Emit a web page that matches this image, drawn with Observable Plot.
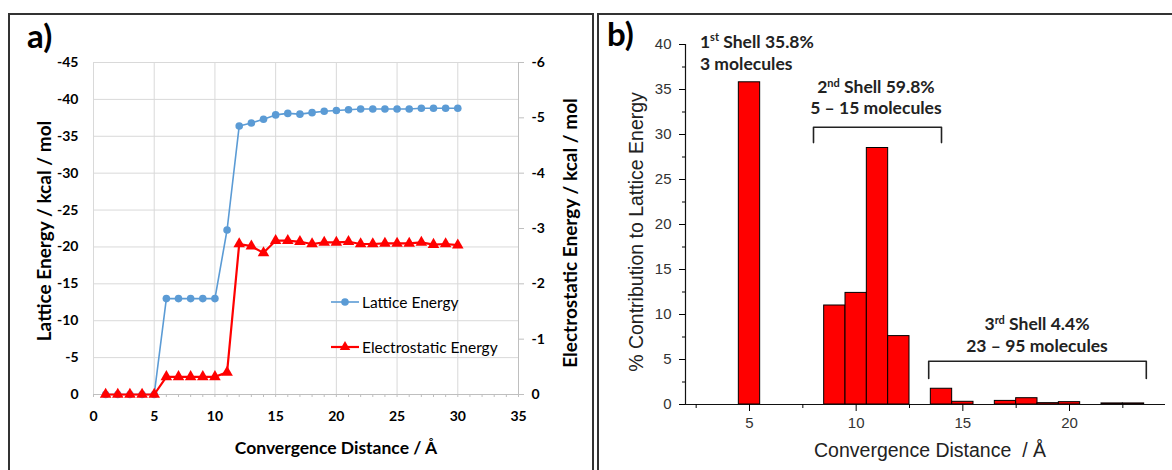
<!DOCTYPE html>
<html><head><meta charset="utf-8">
<script src="https://cdn.jsdelivr.net/npm/d3@7"></script>
<script src="https://cdn.jsdelivr.net/npm/@observablehq/plot@0.6"></script>
<style>
html,body{margin:0;padding:0;background:#fff;}
#wrap{position:relative;width:1172px;height:470px;overflow:hidden;background:#fff;}
.box{position:absolute;border:2px solid #333;box-sizing:border-box;}
#wrap svg{position:absolute;top:0;overflow:visible;}
</style></head><body><div id="wrap"></div>
<script>
// ---------- Panel a data ----------
const distance = [1,2,3,4,5,6,7,8,9,10,11,12,13,14,15,16,17,18,19,20,21,22,23,24,25,26,27,28,29,30];
const latticeEnergy = [0,0,0,0,0,-13,-13,-13,-13,-13,-22.3,-36.4,-36.8,-37.3,-37.9,-38.1,-38.0,-38.2,-38.4,-38.5,-38.6,-38.7,-38.7,-38.7,-38.7,-38.7,-38.8,-38.8,-38.8,-38.8];
const electrostaticEnergy = [0,0,0,0,0,-0.32,-0.32,-0.32,-0.32,-0.32,-0.40,-2.72,-2.68,-2.56,-2.78,-2.78,-2.76,-2.72,-2.75,-2.75,-2.76,-2.72,-2.72,-2.73,-2.73,-2.73,-2.75,-2.71,-2.72,-2.70];
const xTicksA = [0,5,10,15,20,25,30,35];
const xMinorA = [0,1,2,3,4,5,6,7,8,9,10,11,12,13,14,15,16,17,18,19,20,21,22,23,24,25,26,27,28,29,30,31,32,33,34,35];
const yTicksLeft = [0,-5,-10,-15,-20,-25,-30,-35,-40,-45];
const yTicksRight = [0,-1,-2,-3,-4,-5,-6];
const seriesNames = ["Lattice Energy","Electrostatic Energy"];

// ---------- Panel b data ----------
const barDistance = [5,9,10,11,12,14,15,17,18,19,20,22,23];
const contribution = [35.8,11.0,12.4,28.5,7.6,1.75,0.3,0.4,0.7,0.15,0.26,0.12,0.12];
const xTicksB = [5,10,15,20];
const xMinorB = [2.5,7.5,12.5,17.5,22.5];
const yTicksB = [0,5,10,15,20,25,30,35,40];
const yMinorB = [2.5,7.5,12.5,17.5,22.5,27.5,32.5,37.5];
const shellOrdinal = ["1","2","3"];
const shellSuffix = ["st","nd","rd"];
const shellPercent = ["35.8%","59.8%","4.4%"];
const shellMolecules = ["3 molecules","5 \u2013 15 molecules","23 \u2013 95 molecules"];
const shellFrom = [null, 8, 13.4];
const shellTo = [null, 14, 23.6];

const wrap = document.getElementById("wrap");
function box(l,t,w,h){const d=document.createElement("div");d.className="box";Object.assign(d.style,{left:l+"px",top:t+"px",width:w+"px",height:h+"px"});wrap.appendChild(d);}
box(8,13,586,470);
box(597,13,590,470);

// scale factor between left (lattice) and right (electrostatic) axes
const ratio = 45/6;
const blue = "#5B9BD5", red = "#FF0000";
const latticeRows = distance.map((d,i)=>({d, v: latticeEnergy[i]}));
const elecRows = distance.map((d,i)=>({d, v: electrostaticEnergy[i]*ratio}));

const fontA = "Lato, 'Open Sans', sans-serif";
const plotA = Plot.plot({
  width: 600, height: 470,
  marginLeft: 93, marginRight: 82, marginTop: 62, marginBottom: 76,
  x: {domain:[0,35], label:null},
  y: {domain:[0,-45], label:null},
  style: {fontFamily: fontA, fontWeight:"bold", fontSize:"14px", color:"#000", background:"transparent"},
  marks: [
    Plot.ruleX(xTicksA, {stroke:"#d9d9d9"}),
    Plot.ruleY(yTicksLeft, {stroke:"#d9d9d9"}),
    Plot.ruleY([0], {stroke:"#bfbfbf"}),
    Plot.ruleX([35], {stroke:"#bfbfbf"}),
    Plot.axisX({ticks: xMinorA, tickSize:3, tickFormat:()=>"", stroke:"#bfbfbf"}),
    Plot.axisX({ticks: xTicksA, tickSize:0, tickPadding:17, tickFormat:d=>String(d)}),
    Plot.axisY({ticks: yTicksLeft, tickSize:0, tickPadding:15, tickFormat:d=>String(d)}),
    Plot.axisY({ticks: yTicksRight.map(v=>v*ratio), anchor:"right", tickSize:5, tickPadding:8, stroke:"#bfbfbf", tickFormat:d=>String(Math.round(d/ratio))}),
    Plot.line(latticeRows, {x:"d", y:"v", stroke:blue, strokeWidth:1.6}),
    Plot.dot(latticeRows, {x:"d", y:"v", fill:blue, r:3.8}),
    Plot.line(elecRows, {x:"d", y:"v", stroke:red, strokeWidth:2.2}),
    Plot.dot(elecRows, {x:"d", y:"v", fill:red, symbol:"triangle", r:4.3})
  ]
});
plotA.style.left = "0px";
wrap.appendChild(plotA);

function txt(svg, o){
  const t = d3.select(svg).append("text")
    .attr("x", o.x).attr("y", o.y)
    .attr("text-anchor", o.anchor || "start")
    .style("font-family", o.family).style("font-size", o.size+"px")
    .style("font-weight", o.weight || "normal").style("fill", o.fill || "#000")
    .style("white-space","pre");
  if (o.rotate) t.attr("transform", `rotate(${o.rotate},${o.x},${o.y})`);
  if (o.baseline) t.attr("dominant-baseline", o.baseline);
  return t;
}
// Panel a labels
txt(plotA,{x:27,y:48,size:33,weight:"bold",family:fontA}).text("a)");
txt(plotA,{x:43,y:231,size:19,weight:"bold",family:fontA,anchor:"middle",rotate:-90,baseline:"central"}).text("Lattice Energy / kcal / mol");
txt(plotA,{x:569,y:233,size:19,weight:"bold",family:fontA,anchor:"middle",rotate:-90,baseline:"central"}).text("Electrostatic Energy / kcal / mol");
txt(plotA,{x:336,y:454,size:17.5,weight:"bold",family:fontA,anchor:"middle"}).text("Convergence Distance / \u00C5");
// legend
const legendColors = [blue, red];
const legendY = [302, 347];
seriesNames.forEach((name,i)=>{
  const g = d3.select(plotA).append("g");
  g.append("line").attr("x1",331).attr("x2",359).attr("y1",legendY[i]).attr("y2",legendY[i]).attr("stroke",legendColors[i]).attr("stroke-width", i?2.2:1.6);
  if (i===0) g.append("circle").attr("cx",345).attr("cy",legendY[i]).attr("r",3.8).attr("fill",blue);
  else g.append("path").attr("d",d3.symbol(d3.symbolTriangle, 48)()).attr("transform",`translate(345,${legendY[i]})`).attr("fill",red);
  txt(plotA,{x:362,y:legendY[i],size:15.5,weight:"normal",family:fontA,baseline:"central"}).text(name);
});

// ---------- Panel b ----------
const fontB = "'Liberation Sans', Arial, sans-serif";
const barRows = barDistance.map((d,i)=>({d, v: contribution[i]}));
const bracketRows = [];
[1,2].forEach(i=>{
  const lo = i===1 ? 29.1 : 2.9, hi = i===1 ? 30.8 : 4.8;
  bracketRows.push({s:i,x:shellFrom[i],y:lo},{s:i,x:shellFrom[i],y:hi},{s:i,x:shellTo[i],y:hi},{s:i,x:shellTo[i],y:lo});
});
const plotB = Plot.plot({
  width: 574, height: 470,
  marginLeft: 85, marginRight: 9, marginTop: 44, marginBottom: 66,
  x: {domain:[2,24.5], label:null},
  y: {domain:[0,40], label:null},
  style: {fontFamily: fontB, fontSize:"15px", color:"#000", background:"transparent"},
  marks: [
    Plot.rect(barRows, {x1:d=>d.d-0.5, x2:d=>d.d+0.5, y1:0, y2:"v", fill:"#ff0000", stroke:"#000", strokeWidth:1}),
    Plot.ruleX([2], {stroke:"#111", strokeWidth:1.2}),
    Plot.ruleY([0], {stroke:"#111", strokeWidth:1.2}),
    Plot.axisY({ticks:yTicksB, tickSize:6, tickPadding:8, fill:"#333", tickFormat:d=>String(d)}),
    Plot.axisY({ticks:yMinorB, tickSize:3, tickFormat:()=>""}),
    Plot.axisX({ticks:xTicksB, tickSize:7, tickPadding:6, fill:"#333", tickFormat:d=>String(d)}),
    Plot.axisX({ticks:xMinorB, tickSize:4, tickFormat:()=>""}),
    Plot.line(bracketRows, {x:"x", y:"y", z:"s", stroke:"#222", strokeWidth:1.6, strokeLinejoin:"round", curve:"linear"})
  ]
});
plotB.style.left = "600px";
wrap.appendChild(plotB);
const xB = plotB.scale("x"), yB = plotB.scale("y");

txt(plotB,{x:7,y:46,size:33,weight:"bold",family:fontA}).text("b)");
txt(plotB,{x:36,y:232,size:19.5,family:fontB,anchor:"middle",rotate:-90,baseline:"central",fill:"#222"}).text("% Contribution to Lattice Energy");
txt(plotB,{x:330,y:457,size:19.5,family:fontB,anchor:"middle",fill:"#222"}).text("Convergence Distance  / \u00C5");

// shell annotations
const annAnchor = [
  {x:2.7, y1:39.6, y2:37.15, anchor:"start"},
  {x:10.95, y1:34.55, y2:32.2, anchor:"middle"},
  {x:18.5, y1:8.2, y2:5.75, anchor:"middle"}
];
annAnchor.forEach((a,i)=>{
  const px = xB.apply(a.x);
  const t = txt(plotB,{x:px,y:yB.apply(a.y1),size:17.5,weight:"bold",family:fontA,anchor:a.anchor,fill:"#222"});
  t.append("tspan").text(shellOrdinal[i]);
  t.append("tspan").attr("dy",-6.5).style("font-size","11px").text(shellSuffix[i]);
  t.append("tspan").attr("dy",6.5).text(" Shell " + shellPercent[i]);
  txt(plotB,{x:px,y:yB.apply(a.y2),size:17.5,weight:"bold",family:fontA,anchor:a.anchor,fill:"#222"}).text(shellMolecules[i]);
});
</script></body></html>
